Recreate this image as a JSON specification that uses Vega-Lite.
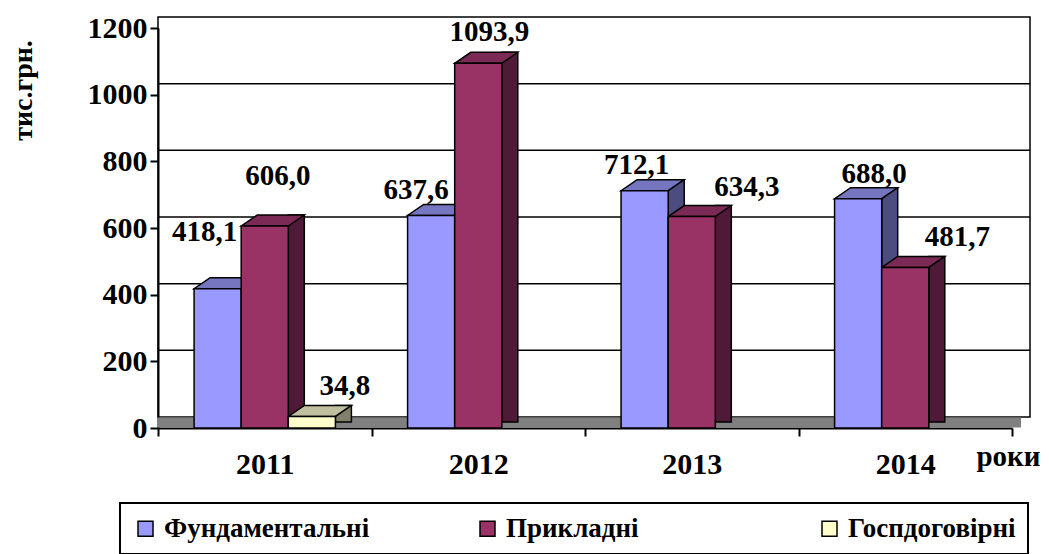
{
  "$schema": "https://vega.github.io/schema/vega-lite/v6.json",
  "width": 854,
  "height": 400,
  "autosize": {"type": "none"},
  "padding": {"left": 158, "top": 28, "right": 37, "bottom": 126},
  "background": "white",
  "config": {
    "view": {"stroke": null},
    "font": "Liberation Serif, Times New Roman, serif",
    "axis": {
      "labelFont": "Liberation Serif, Times New Roman, serif", "labelFontSize": 30, "labelFontWeight": "bold", "labelColor": "black",
      "titleFont": "Liberation Serif, Times New Roman, serif", "titleFontWeight": "bold", "titleColor": "black",
      "domainColor": "black", "domainWidth": 2, "tickColor": "black", "tickWidth": 2, "grid": false
    },
    "axisX": {"tickBand": "extent", "tickSize": 8, "labelPadding": 13, "labelAngle": 0, "titleFontSize": 29,
      "titleX": 850, "titleY": 28, "titleAlign": "center", "titleBaseline": "middle", "titleAngle": 0},
    "axisY": {"tickCount": 6, "format": "d", "tickSize": 8, "labelPadding": 3, "titleFontSize": 28,
      "titleX": -135, "titleY": 62, "titleAlign": "center", "titleBaseline": "middle", "titleAngle": -90},
    "legend": {"strokeWidth": 2}
  },
  "datasets": {
    "main": [
      {"year": "2011", "series": "Фундаментальні", "value": 418.1},
      {"year": "2011", "series": "Прикладні", "value": 606.0},
      {"year": "2011", "series": "Госпдоговірні", "value": 34.8},
      {"year": "2012", "series": "Фундаментальні", "value": 637.6},
      {"year": "2012", "series": "Прикладні", "value": 1093.9},
      {"year": "2013", "series": "Фундаментальні", "value": 712.1},
      {"year": "2013", "series": "Прикладні", "value": 634.3},
      {"year": "2014", "series": "Фундаментальні", "value": 688.0},
      {"year": "2014", "series": "Прикладні", "value": 481.7}
    ],
    "grid": [{"v": 200}, {"v": 400}, {"v": 600}, {"v": 800}, {"v": 1000}]
  },
  "data": {"name": "main"},
  "transform": [{"calculate": "replace(format(datum.value, '.1f'), '.', ',')", "as": "label"}],
  "resolve": {"scale": {"xOffset": "independent", "fill": "independent"}},
  "layer": [
    {
      "data": {"values": [{}]},
      "mark": {"type": "rect", "fill": "transparent", "stroke": "black", "strokeWidth": 1.5, "xOffset": 18, "x2Offset": 18, "yOffset": -11, "y2Offset": -11},
      "encoding": {
        "y": {"datum": 0, "type": "quantitative", "scale": {"domain": [0, 1200]}, "title": "тис.грн."},
        "y2": {"datum": 1200}
      }
    },
    {
      "data": {"name": "grid"},
      "mark": {"type": "rule", "color": "black", "strokeWidth": 1.5, "xOffset": 18, "x2Offset": 18, "yOffset": -11},
      "encoding": {"y": {"field": "v", "type": "quantitative", "title": "тис.грн."}}
    },
    {
      "data": {"values": [{}]},
      "mark": {"type": "rule", "color": "#808080", "strokeWidth": 10, "xOffset": 9, "x2Offset": 9, "yOffset": -5.5},
      "encoding": {"y": {"datum": 0, "type": "quantitative", "title": "тис.грн."}}
    },
    {
      "mark": {"type": "bar", "stroke": "black", "strokeWidth": 1.5, "yOffset": -11, "y2Offset": -6},
      "encoding": {
        "x": {"field": "year", "type": "nominal", "title": "роки", "scale": {"paddingInner": 0, "paddingOuter": 0}},
        "xOffset": {"field": "series", "type": "nominal", "scale": {"type": "band", "domain": ["Фундаментальні", "Прикладні", "Госпдоговірні"], "range": [83.2, 193.4], "paddingInner": 0.66, "paddingOuter": 0}},
        "y": {"field": "value", "type": "quantitative", "title": "тис.грн."},
        "y2": {"datum": 0},
        "fill": {"field": "series", "type": "nominal", "legend": null,
          "scale": {"domain": ["Госпдоговірні", "Прикладні", "Фундаментальні"], "range": ["#80806A", "#4F1A38", "#4C4C80"]}}
      }
    },
    {
      "mark": {"type": "point", "shape": "M-23.5,0L23.5,0L39.5,-11L-7.5,-11Z", "size": 4, "filled": true, "stroke": "black", "strokeWidth": 1.5, "opacity": 1, "fillOpacity": 1},
      "encoding": {
        "x": {"field": "year", "type": "nominal", "title": "роки"},
        "xOffset": {"field": "series", "type": "nominal", "scale": {"type": "band", "domain": ["Фундаментальні", "Прикладні", "Госпдоговірні"], "paddingInner": 0, "paddingOuter": 0.766}},
        "y": {"field": "value", "type": "quantitative", "title": "тис.грн."},
        "fill": {"field": "series", "type": "nominal", "legend": null,
          "scale": {"domain": ["Госпдоговірні", "Прикладні", "Фундаментальні"], "range": ["#C0C0A0", "#7A2A55", "#7676C0"]}}
      }
    },
    {
      "mark": {"type": "bar", "stroke": "black", "strokeWidth": 1.5},
      "encoding": {
        "x": {"field": "year", "type": "nominal", "title": "роки"},
        "xOffset": {"field": "series", "type": "nominal", "scale": {"type": "band", "domain": ["Фундаментальні", "Прикладні", "Госпдоговірні"], "paddingInner": 0, "paddingOuter": 0.766}},
        "y": {"field": "value", "type": "quantitative", "title": "тис.грн."},
        "color": {"field": "series", "type": "nominal",
          "scale": {"domain": ["Фундаментальні", "Прикладні", "Госпдоговірні"], "range": ["#9999FF", "#993366", "#FFFFCC"]},
          "legend": {"orient": "none", "legendX": -38, "legendY": 475, "direction": "horizontal", "title": null,
            "symbolType": "square", "symbolSize": 225, "symbolStrokeColor": "black", "symbolStrokeWidth": 1.5,
            "labelFont": "Liberation Serif, Times New Roman, serif", "labelFontSize": 27, "labelFontWeight": "bold", "labelColor": "black", "labelLimit": 400,
            "strokeColor": "black", "padding": 12, "columnPadding": 104, "labelOffset": 5, "gridAlign": "all"}}
      }
    },
    {
      "transform": [{"filter": "datum.year == '2011' && datum.series == 'Фундаментальні'"}],
      "mark": {"type": "text", "fontWeight": "bold", "fontSize": 29, "baseline": "middle", "dx": -13, "dy": -57},
      "encoding": {"x": {"field": "year", "type": "nominal", "title": "роки"}, "xOffset": {"field": "series", "type": "nominal", "scale": {"type": "band", "domain": ["Фундаментальні", "Прикладні", "Госпдоговірні"], "paddingInner": 0, "paddingOuter": 0.766}}, "y": {"field": "value", "type": "quantitative", "title": "тис.грн."}, "text": {"field": "label"}}
    },
    {
      "transform": [{"filter": "datum.year == '2011' && datum.series == 'Прикладні'"}],
      "mark": {"type": "text", "fontWeight": "bold", "fontSize": 29, "baseline": "middle", "dx": 13, "dy": -50},
      "encoding": {"x": {"field": "year", "type": "nominal", "title": "роки"}, "xOffset": {"field": "series", "type": "nominal", "scale": {"type": "band", "domain": ["Фундаментальні", "Прикладні", "Госпдоговірні"], "paddingInner": 0, "paddingOuter": 0.766}}, "y": {"field": "value", "type": "quantitative", "title": "тис.грн."}, "text": {"field": "label"}}
    },
    {
      "transform": [{"filter": "datum.year == '2011' && datum.series == 'Госпдоговірні'"}],
      "mark": {"type": "text", "fontWeight": "bold", "fontSize": 29, "baseline": "middle", "dx": 33, "dy": -30},
      "encoding": {"x": {"field": "year", "type": "nominal", "title": "роки"}, "xOffset": {"field": "series", "type": "nominal", "scale": {"type": "band", "domain": ["Фундаментальні", "Прикладні", "Госпдоговірні"], "paddingInner": 0, "paddingOuter": 0.766}}, "y": {"field": "value", "type": "quantitative", "title": "тис.грн."}, "text": {"field": "label"}}
    },
    {
      "transform": [{"filter": "datum.year == '2012' && datum.series == 'Фундаментальні'"}],
      "mark": {"type": "text", "fontWeight": "bold", "fontSize": 29, "baseline": "middle", "dx": -15, "dy": -25},
      "encoding": {"x": {"field": "year", "type": "nominal", "title": "роки"}, "xOffset": {"field": "series", "type": "nominal", "scale": {"type": "band", "domain": ["Фундаментальні", "Прикладні", "Госпдоговірні"], "paddingInner": 0, "paddingOuter": 0.766}}, "y": {"field": "value", "type": "quantitative", "title": "тис.грн."}, "text": {"field": "label"}}
    },
    {
      "transform": [{"filter": "datum.year == '2012' && datum.series == 'Прикладні'"}],
      "mark": {"type": "text", "fontWeight": "bold", "fontSize": 29, "baseline": "middle", "dx": 11, "dy": -31},
      "encoding": {"x": {"field": "year", "type": "nominal", "title": "роки"}, "xOffset": {"field": "series", "type": "nominal", "scale": {"type": "band", "domain": ["Фундаментальні", "Прикладні", "Госпдоговірні"], "paddingInner": 0, "paddingOuter": 0.766}}, "y": {"field": "value", "type": "quantitative", "title": "тис.грн."}, "text": {"field": "label"}}
    },
    {
      "transform": [{"filter": "datum.year == '2013' && datum.series == 'Фундаментальні'"}],
      "mark": {"type": "text", "fontWeight": "bold", "fontSize": 29, "baseline": "middle", "dx": -8, "dy": -26},
      "encoding": {"x": {"field": "year", "type": "nominal", "title": "роки"}, "xOffset": {"field": "series", "type": "nominal", "scale": {"type": "band", "domain": ["Фундаментальні", "Прикладні", "Госпдоговірні"], "paddingInner": 0, "paddingOuter": 0.766}}, "y": {"field": "value", "type": "quantitative", "title": "тис.грн."}, "text": {"field": "label"}}
    },
    {
      "transform": [{"filter": "datum.year == '2013' && datum.series == 'Прикладні'"}],
      "mark": {"type": "text", "fontWeight": "bold", "fontSize": 29, "baseline": "middle", "dx": 55, "dy": -30},
      "encoding": {"x": {"field": "year", "type": "nominal", "title": "роки"}, "xOffset": {"field": "series", "type": "nominal", "scale": {"type": "band", "domain": ["Фундаментальні", "Прикладні", "Госпдоговірні"], "paddingInner": 0, "paddingOuter": 0.766}}, "y": {"field": "value", "type": "quantitative", "title": "тис.грн."}, "text": {"field": "label"}}
    },
    {
      "transform": [{"filter": "datum.year == '2014' && datum.series == 'Фундаментальні'"}],
      "mark": {"type": "text", "fontWeight": "bold", "fontSize": 29, "baseline": "middle", "dx": 16, "dy": -25},
      "encoding": {"x": {"field": "year", "type": "nominal", "title": "роки"}, "xOffset": {"field": "series", "type": "nominal", "scale": {"type": "band", "domain": ["Фундаментальні", "Прикладні", "Госпдоговірні"], "paddingInner": 0, "paddingOuter": 0.766}}, "y": {"field": "value", "type": "quantitative", "title": "тис.грн."}, "text": {"field": "label"}}
    },
    {
      "transform": [{"filter": "datum.year == '2014' && datum.series == 'Прикладні'"}],
      "mark": {"type": "text", "fontWeight": "bold", "fontSize": 29, "baseline": "middle", "dx": 52, "dy": -30},
      "encoding": {"x": {"field": "year", "type": "nominal", "title": "роки"}, "xOffset": {"field": "series", "type": "nominal", "scale": {"type": "band", "domain": ["Фундаментальні", "Прикладні", "Госпдоговірні"], "paddingInner": 0, "paddingOuter": 0.766}}, "y": {"field": "value", "type": "quantitative", "title": "тис.грн."}, "text": {"field": "label"}}
    }
  ]
}
